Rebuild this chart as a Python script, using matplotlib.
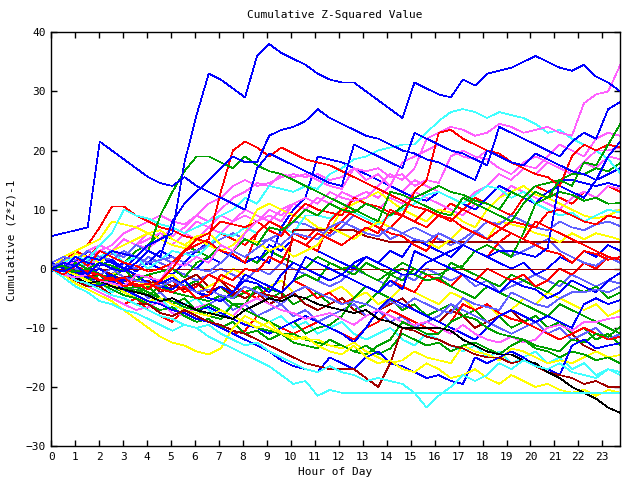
import numpy as np
import matplotlib
matplotlib.use("Agg")
import matplotlib.pyplot as plt

# 48 samples per day (roughly every half hour)
hours = np.linspace(0, 23.75, 48)

s01 = [0, 1, 0.5, 2, 1.5, 3, 2.5, 2, 4, 5, 6, 18, 26, 33, 32, 30.5, 29, 36, 38, 36.5, 35.5, 34.5, 33, 32,
       31.5, 31.5, 30, 28.5, 27, 25.5, 31.5, 30.5, 29.5, 29, 32, 31, 33, 33.5, 34, 35, 36, 35, 34, 33.5, 34.5, 32.5, 31.5, 30]
s02 = [5.5, 6, 6.5, 7, 21.5, 20, 18.5, 17, 15.5, 14.5, 14, 15.5, 14, 13, 12, 11, 10, 17, 19.5, 18.5, 17.5, 16.5, 15.5, 14.5,
       14, 21, 20, 19, 18, 17, 23, 22, 21, 20, 19.5, 18.5, 17.5, 24, 23, 22, 21, 20, 19, 21.5, 23, 22, 27, 28.2]
s03 = [0, -0.5, 0.5, -1, 1, 0, -0.5, 1, 3, 2, 8, 11, 13, 15, 17, 19, 18, 18, 22.5, 23.5, 24, 25, 27, 25.5,
       24.5, 23.5, 22.5, 22, 21, 20, 19.5, 18.5, 18, 17, 16, 15, 20, 19, 18, 17.5, 19.5, 18.5, 17.5, 16.5, 16, 15, 19, 21.5]
s04 = [0, 0.5, -0.5, 0, 1, 0.5, -0.5, 1, 3, 9, 13, 16.5, 19, 19, 18, 17, 19, 17.5, 16.5, 16, 15, 14, 13, 12,
       11, 10, 9, 8, 13, 12.5, 11.5, 10.5, 9.5, 9, 12, 11, 10, 9, 8, 11, 13, 12, 15, 14, 18, 17.5, 21, 24.5]
s05 = [0, -1, 0.5, -1, -2, -1.5, -3, -2.5, -3.5, -2, 0, 3, 4, 5, 13, 20, 21.5, 20.5, 19, 20.5, 19.5, 18.5, 18, 17.5,
       16.5, 15.5, 14.5, 13.5, 12.5, 11.5, 10.5, 10, 9, 8, 10, 9, 8, 7, 6, 5, 8, 7, 6, 5, 4, 3, 2, 1.5]
s06 = [0, 1, 0.5, -0.5, -1, -2, -1.5, -3, -2.5, -3.5, -4, -3, -5, -4.5, -1, -2, 0, -0.5, 2, 1, 5, 4, 6, 5,
       4, 5.5, 7, 6, 10, 9, 13, 15, 23, 23.5, 22, 21, 20, 19.5, 18, 17, 16, 15.5, 14, 19, 21, 20, 21, 20.5]
s07 = [0, -1, -1.5, -1, -2, -2.5, -3, -1, -1.5, -2, 1, 0.5, 2, 1, 4, 3, 6, 8, 9, 8, 11, 12, 11, 13,
       12, 11.5, 12, 14, 16, 15, 17, 22, 23, 24, 23.5, 22.5, 23, 24.5, 24, 23, 23.5, 24, 23, 22.5, 28, 29.5, 30, 34.5]
s08 = [0, -1.5, -3, -4, -5.5, -6, -7, -7.5, -8.5, -9.5, -10.5, -9.5, -10, -11.5, -12.5, -13.5, -14.5, -15.5, -16.5, -18, -19.5, -19, -21.5, -20.5,
       -21, -21, -21, -21, -21, -21, -21, -21, -21, -21, -21, -21, -21, -21, -21, -21, -21, -21, -21, -21, -21, -21, -21, -21]
s09 = [0, -0.5, -2, -2.5, -3.5, -4.5, -5, -6, -7, -8, -8.5, -9.5, -10, -9.5, -11, -12, -13, -12.5, -14, -15, -16, -17, -17.5, -16.5,
       -17.5, -18, -19, -18.5, -19, -19.5, -21, -23.5, -21.5, -20, -18, -19, -18, -16, -17, -15.5, -16.5, -17, -16, -17.5, -18, -18.5, -17, -17.5]
s10 = [0, -1, -1.5, -2.5, -2, -3, -3.5, -4, -4.5, -5.5, -5, -6, -7, -7.5, -8, -8.5, -7, -6, -5, -5.5, -4.5, -5, -6, -6.5,
       -7, -7.5, -7, -8.5, -9, -10, -10, -10, -10, -10.5, -12, -13, -14, -14.5, -14.5, -15.5, -16, -17.5, -18.5, -20, -21, -22, -23.5, -24.4]
s11 = [0, -1, -2.5, -3.5, -4.5, -5.5, -7, -8.5, -10, -11.5, -12.5, -13, -14, -14.5, -13.5, -10, -8, -9, -10, -11, -12, -11.5, -13, -14,
       -14.5, -13, -15, -16, -15.5, -17, -17.5, -16, -17, -18.5, -18, -17, -18.5, -19.5, -18, -19, -20, -19.5, -20.5, -21, -20.5, -21.5, -20.5, -21]
s12 = [0, -1, -2, -3, -3, -4.5, -5, -6, -6, -7.5, -8, -7, -8, -9, -9.5, -10.5, -11, -12, -13, -14, -15, -16, -16.5, -17,
       -17, -17, -18.5, -20, -16, -10, -10.5, -11.5, -12, -13, -13.5, -14.5, -15, -15, -16, -15.5, -16.5, -17.5, -18, -18.5, -19.5, -19, -20, -20]
s13 = [0, -0.5, -1.5, -2.5, -3, -2, -3.5, -4.5, -5.5, -6, -7, -7.5, -8.5, -9, -10, -11, -12, -13, -14, -15.5, -16.5, -17, -17.5, -15,
       -16, -17, -15, -14, -16, -16.5, -17.5, -18.5, -18, -19, -19.5, -15, -16, -15, -14, -15, -16.5, -17, -18, -13, -12, -13.5, -13, -12.6]
s14 = [0, -1, -2, -3, -2.5, -3.5, -4.5, -5, -6, -7, -6.5, -8, -9, -8.5, -10, -9, -11, -10.5, -12, -11, -12.5, -13, -13.5, -12,
       -13, -14, -13, -14.5, -13.5, -11, -12, -13, -12.5, -14, -13, -12.5, -13.5, -14.5, -13, -12, -13.5, -14, -15, -14, -14.5, -15.5, -15, -16]
s15 = [0, -0.5, -1, -2, -3, -2.5, -4, -5, -5.5, -5, -6, -7, -7.5, -8, -7, -8, -9, -10, -9, -11, -11.5, -12, -12, -13,
       -13.5, -12.5, -14, -15, -16, -15.5, -14, -15, -15.5, -16, -13, -14, -14.5, -15.5, -13.5, -14, -15, -16, -15.5, -16, -15, -14, -15, -14.6]
s16 = [0, 0.5, -1, -2, -1, -2.5, -3.5, -3, -4, -5, -5.5, -6.5, -7, -6, -7, -8, -9, -10, -10.5, -11, -11, -12, -12.5, -13,
       -13, -14, -14.5, -13, -12, -9, -10, -11, -11, -9, -8, -8.5, -10, -11, -11.5, -12, -13, -13.5, -14, -12, -12.5, -11, -11.5, -9.8]
s17 = [0, -1, -1.5, -3, -4, -5, -6, -7, -6.5, -5.5, -7.5, -8, -6.5, -6, -7, -8, -6, -5, -6, -7, -7.5, -8.5, -8, -7.5,
       -8.5, -9.5, -8, -7, -8, -9, -9.5, -9, -10, -11, -9.5, -11, -12, -12.5, -11.5, -12.5, -12, -10, -9.5, -10.5, -9, -9, -8.5, -8.1]
s18 = [0, -1, -0.5, -1.5, -2, -1, -2.5, -3, -4, -5, -5.5, -6, -7, -6.5, -7.5, -8.5, -9.5, -10, -11, -10, -9, -8, -9, -10,
       -11, -12.5, -10, -7, -5, -6, -7, -8, -9, -10, -11, -12, -10, -8, -7, -8, -9, -8, -9, -10, -6, -5, -6, -5.3]
s19 = [0.5, 1, 0, -0.5, -1, 0, -1.5, -2, -2.5, -3, -2, -3, -4, -3.5, -4.5, -5, -3, -4, -5, -6, -4, -3, -4, -5,
       -6, -5.5, -6, -7, -5.5, -6.5, -5, -6, -7, -7.5, -5, -6, -6.5, -7, -4, -5, -6, -6.5, -5, -4, -4, -3.5, -4, -3]
s20 = [1, 0, 2, 1, 0.5, 1.5, 0, -1, -1.5, -2.5, -1.5, -3, -4, -5, -5.5, -4, -1, -2, -3, -4, -2, 2, 1, 0,
       -1, -2, -3, -4, -2, -3.5, 3, 2, 1, 0, -1, -2, -3, -4, -2, -3, -3.5, -5, -4, -2, -3, -4, -2, -0.7]
s21 = [0, 1, 2, 1.5, 4, 6, 10, 9, 8.5, 7.5, 7, 6, 7, 8, 9, 10, 12, 11, 14, 13.5, 13, 14, 13.5, 16,
       17, 18.5, 19, 20, 20.5, 21, 21, 23, 25, 26.5, 27, 26.5, 25.5, 26.5, 26, 25.5, 24.5, 23, 23.5, 22, 21, 20, 18.5, 16.2]
s22 = [0, -0.5, 1, 0, -1, -1.5, 0, -2, -1, -0.5, 0, -1.5, 1, 2, 4, 3, 5, 4, 7, 6.5, 8, 10, 9, 11,
       10, 9.5, 11, 10, 9, 10.5, 12, 13, 14, 13, 12.5, 11.5, 11, 10, 13, 12, 14, 14.5, 15, 16, 16, 17, 16.5, 17.9]
s23 = [0, 1, -0.5, -1, 0, -1.5, -2, -1, -2.5, -3, -3.5, -2, -4, -4.5, -3, -4, -2, -2.5, -4, -1, 1, 0, -1, -2,
       -1, 1, 2, 1, 0, -1, -1, 1, 2, 3, 4, 3, 2, 3, 3, 2.5, 2, 3.5, 15, 15, 14.5, 14, 14.5, 13.9]
s24 = [0, 0.5, -1, -2, -2.5, -3, -4, -3.5, -4.5, -3, -4, -4.5, -5, -5.5, -4.5, -6, -6, -3, -3.5, -4, -2, -1, -2, 1,
       0, 0.5, -1, -2, -0.5, 1, 0, -1, -1, 0, 0.5, 3, 4, 3, 2, 6, 11, 12, 13, 12.5, 11.5, 12, 11, 11.1]
s25 = [0, 1, 2, 0.5, 3, 2, 1, 0.5, -0.5, 0, 1, 3, 5, 6, 8, 7.5, 7, 8, 6.5, 5.5, 9, 11, 10, 9.5,
       9, 12, 11, 10.5, 9.5, 9, 8, 10, 9, 8.5, 7, 6, 5, 6.5, 8, 7.5, 7, 9.5, 10, 9, 8, 7.5, 9, 8.5]
s26 = [1, 2, 1.5, 3, 2, 1.5, 3, 2, 1, 1.5, 2, 1, 0, -0.5, 1, 3, 2, 3.5, 5, 4, 6, 5.5, 5, 7,
       8, 7, 6, 5.5, 7, 6, 5, 4.5, 6, 5, 4, 6, 8, 7.5, 9, 8, 7, 6.5, 8, 7, 6.5, 7.5, 8, 7.2]
s27 = [0, 2, 3, 4, 5, 8, 7.5, 7, 6, 6.5, 5, 4, 5.5, 6, 4, 3, 5, 4.5, 3, 4, 2, 3, 4, 7,
       6, 5, 6.5, 8, 7, 6, 5, 4.5, 3.5, 5, 7, 6, 5, 8, 7.5, 7, 6, 5.5, 4.5, 6, 5, 6, 5.5, 4.9]
s28 = [1, 2, 3, 4, 7, 10.5, 10.5, 9, 8, 7, 6.5, 5.5, 5, 4.5, 3, 2.5, 1, 6, 8, 7, 5, 4, 3, 8,
       10, 9, 8, 7, 6, 5.5, 4, 3, 6, 5, 4, 3, 2, 4.5, 6, 5, 4, 3, 2.5, 1, 3, 2.5, 1.5, 2]
s29 = [0, 0, 0, 0, 0, 0, 0, 0, 0, 0, 0, 0, 0, 0, 0, 0, 0, 0, 0, 0, 0, 0, 0, 0,
       0, 0, 0, 0, 0, 0, 0, 0, 0, 0, 0, 0, 0, 0, 0, 0, 0, 0, 0, 0, 0, 0, 0, 0]
s30 = [0, -1, 0.5, -1.5, -1, -2, -1.5, -1, -2.5, -2, -3, -3.5, -2.5, -4, -3, -4.5, -3, -4, -4.5, -5, 6.5, 6.5, 6.5, 6.5,
       6.5, 6.5, 5.5, 5, 4.5, 4.5, 4.5, 4.5, 4.5, 4.5, 4.5, 4.5, 4.5, 4.5, 4.5, 4.5, 4.5, 4.5, 4.5, 4.5, 4.5, 4.5, 4.5, 4.5]
s31 = [0, 1, 0.5, 2, 3, 4, 6, 7, 8, 9, 8, 7.5, 9, 8, 10, 12, 13, 14.5, 14, 16, 15.5, 16, 15, 14,
       13.5, 17, 16.5, 17, 15.5, 16, 14, 15, 14.5, 19, 20, 19, 18.5, 17, 16, 18, 19, 18, 17, 16, 18, 20, 20, 20.5]
s32 = [0, -1, 0.5, 1, 2, 3, 1, 2, 0, 1.5, 3, 2.5, 2, 4, 6, 5.5, 7, 6, 8, 7, 6, 9, 9, 8.5,
       10, 9.5, 8.5, 7.5, 9, 10, 11, 12.5, 13, 12, 11, 12.5, 14, 13.5, 12, 13, 11, 10, 9, 9.5, 8, 9, 10, 9.5]
s33 = [0, 1, 2.5, 2, 1, 3, 4, 5, 6, 5, 4, 3.5, 5, 4, 3, 4, 6, 10, 11, 10, 9, 8.5, 7, 6.5,
       10, 11, 12, 13, 11.5, 10, 9, 8, 10, 9.5, 8, 7, 10, 12, 13, 14, 12.5, 12, 11, 10, 9, 8.5, 9, 10]
s34 = [0, 1.5, 2, 1, 3, 2.5, 2, 4, 3, 2, 1, 2.5, 3, 4, 5, 6, 5, 4.5, 5, 6, 8, 7.5, 6.5, 5.5,
       7, 9, 8, 7, 5, 6, 7, 6, 5, 4, 5, 6.5, 5, 4, 2, 3, 4, 5, 3, 2, 1, 0.5, 2, 1]
s35 = [0, -1, 0, -2, -1, -2.5, -3, -4, -3, -5, -6, -5, -7, -8, -8.5, -6, -7, -8, -9, -10, -9, -11, -10, -9.5,
       -8, -5, -3, -4, -1, 0, -1, -2, -1.5, -3, -4, -5, -3, -4, -5, -6, -7, -8, -6, -7, -8, -9, -10, -11]
s36 = [0, -1, -2, -3, -4, -5, -6, -5, -7, -8, -9, -7, -8, -9, -10, -11, -10.5, -8, -9, -10, -11, -10, -9, -10,
       -11, -12, -10, -9, -7, -8, -9, -10, -11, -9, -6, -7, -6, -7.5, -8.5, -9, -10, -11, -12, -11, -10, -11, -12, -11.5]
s37 = [0, 1, 1, 0, 2, 3, 2, 4, 5, 6, 5.5, 7, 9, 11, 12, 14, 15, 14, 14.5, 15.5, 16, 15.5, 16, 15,
       15.5, 17, 15, 16, 14, 18, 19, 20, 21, 20, 19, 18.5, 20, 19, 18, 17.5, 17, 19, 21, 20, 19, 22, 23, 22.5]
s38 = [-0.5, 1, 2, 0.5, -1, 0, 1, -0.5, 1, 3, 2, 1, 3, 4.5, 3, 2, 1, 2, 1, 7, 10, 12, 19, 18.5,
       18, 17, 16, 15, 14, 13, 12, 11.5, 13, 12, 11, 10, 12, 14, 13, 12, 11, 13, 14, 13, 12, 15, 16, 17]
s39 = [0, -0.5, 1, 2, 1.5, 3, 2, 4, 3.5, 5, 4, 6, 5, 7, 6, 8, 9, 8, 10, 9, 11, 10, 12, 11,
       13, 12, 11, 10, 12, 11, 13, 12, 11, 10, 9, 11, 10, 12, 14, 13, 12, 11, 10, 12, 13, 12, 14, 13.5]
s40 = [0, 1, -1, 0, -2, -1, -3, -2, -1, -3, -2, -4, -3, -1, -2, -3, -4, -5, -3, -4, -2, -3, -5, -4,
       -6, -5, -3, -4, -2, -3, -4, -1, -2, -3, -1, -2, 0, -1, -2, -1, -3, -2, 0, -1, 1, 0, 2, 1.5]
s41 = [0, 0.5, 1, 2, 3, 2, 1, 3, 4, 6, 5, 4, 3, 2, 4, 3, 2, 1, 3, 2, 1, 0, 2, 1,
       0, -1, 1, 0, -1, -2, 0, -1, -2, 1, 0, -1, -2, -3, -1, -2, -3, -4, -2, -3, -4, -3, -5, -4]
s42 = [0, -1, -2, -1, -3, -2, -4, -3, -5, -4, -6, -5, -7, -6, -5, -7, -6, -8, -7, -6, -8, -7, -9, -8,
       -7, -6, -8, -7, -9, -8, -10, -9, -8, -6, -7, -8, -9, -10, -11, -10, -9, -11, -10, -12, -11, -10, -12, -11]
s43 = [0, -1, -2, -3, -2, -4, -3, -5, -6, -5, -7, -6, -5, -7, -8, -6, -7, -8, -9, -8, -10, -9, -11, -10,
       -9, -11, -12, -11, -10, -12, -13, -11, -12, -13, -14, -13, -15, -14, -16, -15, -14, -16, -15, -17, -16, -18, -17, -18]
s44 = [0, 1, 0, -1, -2, -1, 0, -2, -3, -2, -1, -3, -4, -3, -2, 0, -1, -2, -3, -2, -4, -3, -5, -4,
       -3, -5, -4, -6, -5, -3, -4, -5, -6, -4, -5, -7, -6, -8, -7, -5, -6, -4, -5, -6, -7, -6, -8, -7]
s45 = [0, 2, 1, 3, 2, 1, 0, 2, 1, 0, -1, 1, 0, 2, 1, 3, 2, 1, 4, 3, 5, 4, 3, 2,
       1, 0, 2, 1, 3, 2, 5, 4, 3, 2, 4, 3, 2, 1, 0, 1, -1, 0, 2, 1, 3, 2, 4, 3]
s46 = [0, -1, -2, -1, 0, -1, -2, -3, -2, -4, -3, -2, -1, -3, -2, -4, -5, -4, -6, -5, -4, -6, -7, -6,
       -5, -7, -8, -7, -6, -5, -7, -8, -9, -7, -8, -10, -9, -8, -7, -9, -10, -11, -12, -11, -13, -14, -15, -16]
s47 = [0, 2, 1, 3, 4, 3, 5, 4, 6, 5, 7, 6, 8, 7, 9, 8, 10, 9, 8, 10, 11, 10, 12, 11,
       10, 12, 13, 12, 14, 13, 15, 14, 13, 12, 11, 13, 14, 16, 15, 17, 16, 18, 17, 16, 18, 17, 19, 18.5]
s48 = [0, 1, 3, 2, 4, 3, 2, 4, 6, 5, 4, 6, 8, 7, 6, 5, 4, 6, 8, 7, 6, 5, 7, 6,
       8, 10, 9, 8, 7, 9, 8, 7, 9, 11, 10, 12, 11, 10, 9, 12, 14, 13, 12, 11, 13, 12, 14, 13]
s49 = [0, 0.5, -0.5, 1, 0, -1, 1, 0, 2, 1, 0, -1, -2, -1, 0, -1, -2, 0, -1, 1, 0, -1, -2, -3,
       -2, 0, -1, -2, -3, -1, -2, 0, -1, -2, -1, -3, -2, -4, -3, -2, -1, -2, -3, -1, -2, -3, -2, -2.5]
s50 = [0, -1, -0.5, -2, -1, -3, -2, -1, -3, -2, -4, -3, -2, -4, -3, -5, -4, -3, -5, -4, -6, -5, -4, -6,
       -5, -7, -6, -4, -5, -7, -6, -8, -7, -6, -8, -7, -9, -8, -10, -9, -8, -10, -9, -11, -10, -12, -11, -13]

red = "#ff0000"
green = "#00a000"
blue = "#0000ff"
pink = "#ff60ff"
cyan = "#40ffff"
darkred = "#a00000"
yellow = "#ffff00"
black = "#000000"
slate = "#6060ff"

series = [s01, s02, s03, s04, s05, s06, s07, s08, s09, s10, s11, s12, s13, s14, s15, s16, s17, s18, s19,
          s20, s21, s22, s23, s24, s25, s26, s27, s28, s29, s30, s31, s32, s33, s34, s35, s36, s37, s38,
          s39, s40, s41, s42, s43, s44, s45, s46, s47, s48, s49, s50]
colors = [blue, blue, blue, green, red, red, pink, cyan, cyan, black, yellow, darkred, blue, green, yellow,
          green, pink, blue, slate, blue, cyan, green, blue, green, red, slate, yellow, red, darkred, darkred,
          pink, cyan, yellow, slate, green, red, pink, blue,
          pink, red, green, slate, cyan, yellow, blue, darkred, pink, red, slate, green]

plt.rcParams['font.family'] = ['DejaVu Sans Mono']
fig = plt.figure(figsize=(6.4, 4.8), dpi=100)
ax = fig.add_axes([51.3 / 640, 1 - 446 / 480, 569 / 640, 413.7 / 480])

# draw background series first so the bold upper curves stay on top
order = list(range(len(series)))[::-1]
for i in order:
    ax.plot(hours, series[i], color=colors[i], lw=0.5, antialiased=False)

ax.set_xlim(0, 23.75)
ax.set_ylim(-30, 40)
ax.set_xticks(range(24))
ax.set_yticks(range(-30, 41, 10))
ax.tick_params(direction='in', length=4, width=1, top=True, right=True, labelsize=8, pad=4)
for sp in ax.spines.values():
    sp.set_linewidth(1)

fig.text(0.523, 1 - 15 / 480, "Cumulative Z-Squared Value", ha='center', va='center', fontsize=8)
fig.text(0.523, 1 - 472 / 480, "Hour of Day", ha='center', va='center', fontsize=8)
fig.text(12 / 640, 0.5, "Cumulative (Z*Z)-1", ha='center', va='center', rotation=90, fontsize=8)

fig.savefig("out.png", dpi=100)
